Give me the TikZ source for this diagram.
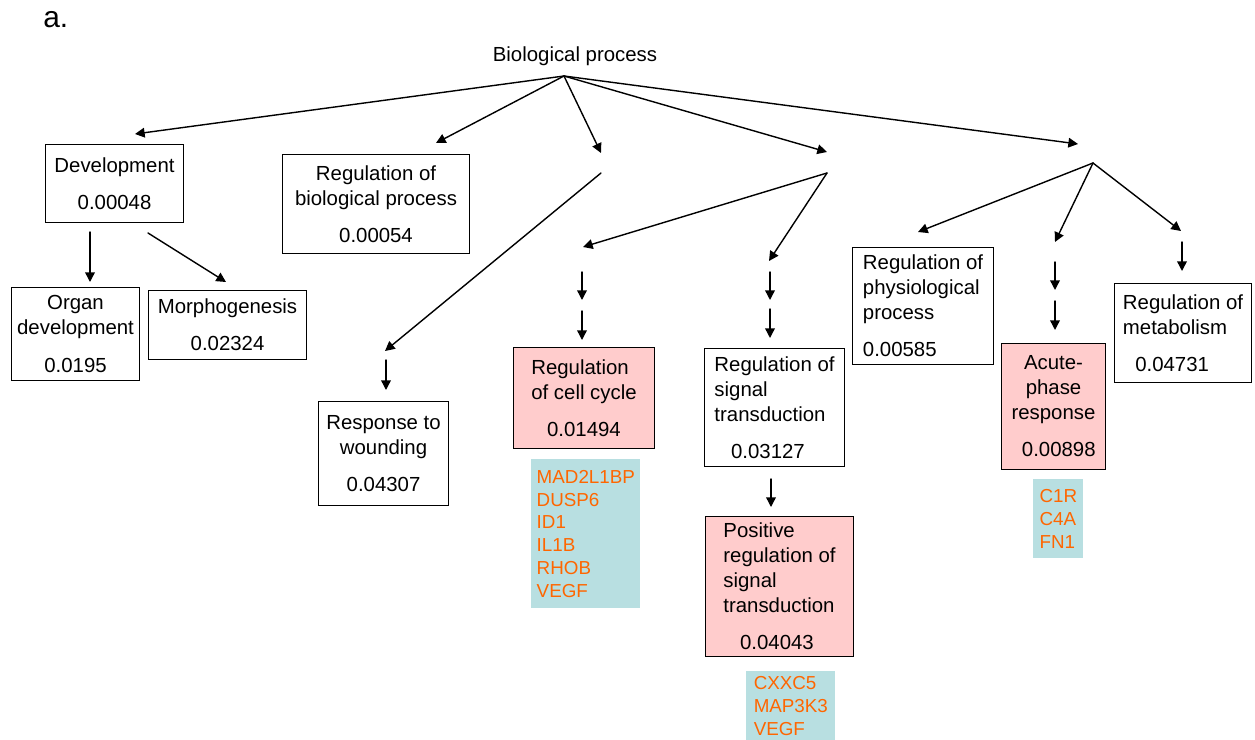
\documentclass[tikz,border=0pt]{standalone}
\usepackage{fontspec}
\setmainfont{Liberation Sans}
\usetikzlibrary{arrows.meta}

\definecolor{hitpink}{RGB}{255,204,204}
\definecolor{genecyan}{RGB}{184,223,225}
\definecolor{geneorange}{RGB}{255,102,0}

\begin{document}
\begin{tikzpicture}[x=0.02cm,y=-0.02cm,line cap=round]
	\tikzstyle{arr}=[line width=0.8pt,-{Triangle[length=5.5pt,width=5.5pt]}];
	\tikzstyle{term}=[draw,line width=0.6pt,rectangle,anchor=north west,inner sep=0pt,align=center,
		font=\fontsize{11.6}{14.2}\selectfont];
	\tikzstyle{hit}=[term,fill=hitpink];
	\tikzstyle{genes}=[rectangle,fill=genecyan,text=geneorange,anchor=north west,inner sep=0pt,align=left,
		font=\fontsize{10.7}{13}\selectfont];

	\useasboundingbox (0,0) rectangle (1255,740);
	\node[font=\fontsize{17}{20}\selectfont,anchor=base west,inner sep=0pt] (tag) at (43,28) {a.};
	\node[font=\fontsize{11.6}{14.2}\selectfont] (root) at (575,56) {Biological process};

	% hubs of the tree
	\coordinate (top) at (564,76);
	\coordinate (h1in) at (601,153); \coordinate (h1) at (601,173);
	\coordinate (h2in) at (827,152); \coordinate (h2) at (827,173);
	\coordinate (h3in) at (1078,144); \coordinate (h3) at (1093,163);

	% terms
	\node[term,minimum width=2.76cm,minimum height=1.56cm] (dev) at (45,144) {Development\\[7pt]0.00048};
	\node[term,minimum width=2.56cm,minimum height=1.86cm] (organ) at (11,287) {Organ\\development\\[7pt]0.0195};
	\node[term,minimum width=3.16cm,minimum height=1.38cm] (morph) at (148,290) {Morphogenesis\\[7pt]0.02324};
	\node[term,minimum width=3.74cm,minimum height=1.98cm] (regbio) at (282,154) {Regulation of\\biological process\\[7pt]0.00054};
	\node[term,minimum width=2.60cm,minimum height=2.08cm] (wound) at (318,401) {Response to\\wounding\\[7pt]0.04307};
	\node[hit,minimum width=2.82cm,minimum height=2.02cm,align=left] (cellcyc) at (513,347)
		{Regulation\\of cell cycle\\[7pt]\hspace*{9pt}0.01494};
	\node[term,minimum width=2.80cm,minimum height=2.36cm,align=left] (sigtr) at (704,348)
		{Regulation of\\signal\\transduction\\[7pt]\hspace*{9.5pt}0.03127};
	\node[hit,minimum width=2.96cm,minimum height=2.80cm,align=left] (possig) at (705,516)
		{Positive\\regulation of\\signal\\transduction\\[7pt]\hspace*{9.5pt}0.04043};
	\node[term,minimum width=2.82cm,minimum height=2.34cm,align=left] (physio) at (852,247)
		{Regulation of\\physiological\\process\\[7pt]0.00585};
	\node[hit,minimum width=2.08cm,minimum height=2.52cm] (acute) at (1001,343)
		{Acute-\\phase\\response\\[7pt]\hspace*{6pt}0.00898};
	\node[term,minimum width=2.74cm,minimum height=1.98cm,align=left] (metab) at (1114,283)
		{Regulation of\\metabolism\\[7pt]\hspace*{7pt}0.04731};

	% gene lists
	\node[genes,minimum width=2.18cm,minimum height=2.98cm] (cellgenes) at (531,459)
		{MAD2L1BP\\DUSP6\\ID1\\IL1B\\RHOB\\VEGF};
	\node[genes,minimum width=1.78cm,minimum height=1.38cm] (sigtrgenes) at (746,671)
		{CXXC5\\MAP3K3\\VEGF};
	\node[genes,minimum width=1.00cm,minimum height=1.58cm] (acutegenes) at (1033,479)
		{C1R\\C4A\\FN1};

	% from the root
	\coordinate (devtip) at (135,134);
	\coordinate (regbiotip) at (436,143);
	\draw[arr] (top) -- (devtip);
	\draw[arr] (top) -- (regbiotip);
	\draw[arr] (top) -- (h1in);
	\draw[arr] (top) -- (h2in);
	\draw[arr] (top) -- (h3in);

	% development branch
	\coordinate (dev1) at (90,232); \coordinate (dev1tip) at (90,282);
	\coordinate (dev2) at (148,233); \coordinate (dev2tip) at (226,282);
	\draw[arr] (dev1) -- (dev1tip);
	\draw[arr] (dev2) -- (dev2tip);

	% wounding branch
	\coordinate (w1tip) at (385,351);
	\coordinate (w2) at (386,360); \coordinate (w2tip) at (386,390);
	\draw[arr] (h1) -- (w1tip);
	\draw[arr] (w2) -- (w2tip);

	% cell cycle and signal transduction
	\coordinate (c0tip) at (583,247);
	\coordinate (c1) at (582,272); \coordinate (c1tip) at (582,300);
	\coordinate (c2) at (582,311); \coordinate (c2tip) at (582,340);
	\coordinate (s0tip) at (769,261);
	\coordinate (s1) at (770,272); \coordinate (s1tip) at (770,300);
	\coordinate (s2) at (770,309); \coordinate (s2tip) at (770,338);
	\coordinate (s3) at (771,479); \coordinate (s3tip) at (771,507);
	\draw[arr] (h2) -- (c0tip);
	\draw[arr] (c1) -- (c1tip);
	\draw[arr] (c2) -- (c2tip);
	\draw[arr] (h2) -- (s0tip);
	\draw[arr] (s1) -- (s1tip);
	\draw[arr] (s2) -- (s2tip);
	\draw[arr] (s3) -- (s3tip);

	% physiological, acute-phase, metabolism
	\coordinate (p0tip) at (918,232);
	\coordinate (a0tip) at (1055,242);
	\coordinate (a1) at (1055,262); \coordinate (a1tip) at (1055,290);
	\coordinate (a2) at (1055,301); \coordinate (a2tip) at (1055,330);
	\coordinate (m0tip) at (1181,231);
	\coordinate (m1) at (1182,242); \coordinate (m1tip) at (1182,271);
	\draw[arr] (h3) -- (p0tip);
	\draw[arr] (h3) -- (a0tip);
	\draw[arr] (a1) -- (a1tip);
	\draw[arr] (a2) -- (a2tip);
	\draw[arr] (h3) -- (m0tip);
	\draw[arr] (m1) -- (m1tip);
\end{tikzpicture}
\end{document}
